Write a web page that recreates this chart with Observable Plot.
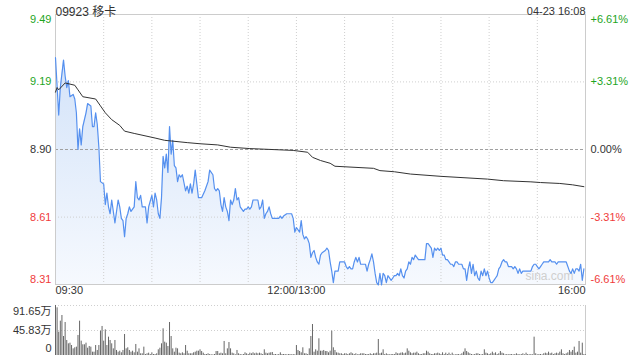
<!DOCTYPE html>
<html><head><meta charset="utf-8">
<script src="https://cdn.jsdelivr.net/npm/d3@7"></script>
<script src="https://cdn.jsdelivr.net/npm/@observablehq/plot@0.6"></script>
<style>
body{margin:0;background:#fff;}
#wrap{position:relative;width:640px;height:360px;font-family:"Liberation Sans",Arial,"Noto Sans CJK SC",sans-serif;}
#wrap svg{position:absolute;left:0;overflow:visible;}
</style></head><body><div id="wrap"></div>
<script>
const title = "09923 移卡";
const stamp = "04-23 16:08";
const watermark = "sina.com";
const prevClose = 8.90;
const pctLevels = [6.61, 3.31, 0, -3.31, -6.61];
const leftLabels = ["9.49", "9.19", "8.90", "8.61", "8.31"];
const rightLabels = ["+6.61%", "+3.31%", "0.00%", "-3.31%", "-6.61%"];
const xTickMin = [0, 150, 330];            // session minutes (13:00 = 150)
const xTickText = ["09:30", "12:00/13:00", "16:00"];
const volTicks = [91.65, 45.83, 0];
const volTickText = ["91.65万", "45.83万", "0"];

// [session minute, price]
const amPrice = [[0,9.30],[2,9.05],[3,9.17],[5,9.29],[6,9.22],[7,9.17],[8,9.20],[9,9.13],[11,9.14],[12,9.12],[13,9.06],[14,8.90],[15,8.99],[16,8.92],[17,9.00],[19,9.06],[20,9.10],[22,9.09],[23,9.00],[24,9.00],[25,9.06],[26,9.01],[27,8.91],[28,8.76],[30,8.75],[31,8.66],[32,8.71],[33,8.65],[34,8.62],[35,8.68],[37,8.58],[38,8.63],[39,8.68],[40,8.65],[41,8.60],[42,8.59],[43,8.52],[44,8.60],[45,8.62],[46,8.65],[47,8.63],[49,8.65],[50,8.76],[51,8.69],[52,8.68],[53,8.70],[54,8.65],[55,8.65],[56,8.65],[57,8.58],[58,8.65],[60,8.70],[61,8.65],[62,8.71],[63,8.68],[64,8.62],[65,8.60],[66,8.69],[67,8.87],[68,8.82],[69,8.88],[70,8.80],[71,9.00],[72,8.88],[73,8.94],[74,8.83],[75,8.82],[76,8.76],[77,8.79],[78,8.78],[79,8.79],[81,8.72],[82,8.74],[83,8.71],[84,8.75],[85,8.71],[86,8.75],[87,8.81],[88,8.75],[89,8.69],[91,8.69],[93,8.72],[95,8.76],[96,8.81],[98,8.79],[99,8.73],[100,8.72],[101,8.73],[102,8.72],[103,8.66],[104,8.63],[105,8.69],[106,8.65],[107,8.63],[108,8.59],[109,8.68],[110,8.66],[111,8.68],[112,8.73],[113,8.68],[114,8.69],[115,8.65],[116,8.64],[117,8.63],[118,8.64],[119,8.64],[120,8.65],[121,8.64],[122,8.65],[123,8.68],[124,8.68],[126,8.68],[127,8.64],[128,8.65],[129,8.68],[130,8.60],[131,8.62],[132,8.63],[133,8.65],[134,8.62],[135,8.60],[137,8.60],[139,8.60],[140,8.61],[141,8.60],[142,8.61],[144,8.62],[145,8.62],[147,8.62],[148,8.60],[149,8.54]];
const pmPrice = [[150,8.56],[152,8.54],[153,8.59],[154,8.53],[155,8.51],[156,8.52],[157,8.51],[158,8.49],[159,8.43],[160,8.45],[161,8.46],[162,8.43],[163,8.41],[164,8.40],[165,8.44],[166,8.45],[168,8.46],[169,8.47],[170,8.46],[171,8.41],[172,8.37],[173,8.32],[174,8.37],[176,8.37],[177,8.41],[178,8.41],[180,8.41],[181,8.39],[182,8.38],[183,8.39],[184,8.38],[185,8.38],[186,8.41],[187,8.43],[188,8.41],[189,8.43],[190,8.40],[192,8.40],[193,8.40],[194,8.37],[195,8.40],[196,8.42],[197,8.445],[198,8.41],[199,8.36],[200,8.32],[201,8.31],[202,8.36],[203,8.31],[204,8.36],[205,8.35],[206,8.32],[207,8.35],[209,8.33],[210,8.34],[211,8.35],[212,8.35],[213,8.36],[214,8.35],[215,8.38],[216,8.35],[217,8.34],[218,8.37],[219,8.38],[220,8.41],[221,8.40],[222,8.43],[223,8.42],[224,8.44],[225,8.43],[226,8.42],[227,8.42],[228,8.42],[230,8.42],[231,8.49],[232,8.49],[234,8.47],[235,8.43],[236,8.47],[237,8.46],[238,8.47],[239,8.46],[240,8.47],[241,8.44],[242,8.44],[243,8.42],[244,8.42],[245,8.41],[246,8.40],[247,8.40],[248,8.39],[249,8.41],[250,8.41],[251,8.40],[252,8.40],[253,8.40],[254,8.38],[255,8.38],[256,8.33],[257,8.38],[258,8.41],[259,8.36],[260,8.40],[261,8.35],[262,8.37],[263,8.34],[264,8.33],[265,8.37],[266,8.35],[267,8.38],[268,8.35],[269,8.37],[270,8.34],[271,8.32],[272,8.32],[273,8.33],[274,8.34],[275,8.35],[276,8.38],[277,8.39],[278,8.41],[279,8.42],[280,8.41],[281,8.41],[282,8.39],[283,8.39],[284,8.39],[285,8.38],[286,8.39],[287,8.38],[288,8.36],[289,8.38],[290,8.36],[291,8.37],[293,8.37],[295,8.37],[296,8.37],[297,8.39],[298,8.40],[299,8.40],[300,8.39],[301,8.38],[302,8.39],[303,8.40],[304,8.41],[305,8.41],[306,8.41],[307,8.41],[308,8.42],[309,8.41],[310,8.41],[311,8.41],[312,8.40],[313,8.41],[314,8.41],[315,8.41],[316,8.41],[317,8.41],[318,8.41],[319,8.39],[320,8.37],[321,8.36],[322,8.38],[323,8.36],[324,8.38],[325,8.38],[326,8.37],[327,8.40],[328,8.33],[329,8.38]];
const avgPrice = [[0,9.15],[1,9.17],[2,9.16],[6,9.19],[12,9.18],[14,9.16],[17,9.13],[25,9.12],[28,9.09],[31,9.06],[35,9.03],[40,9.005],[43,8.98],[49,8.97],[62,8.95],[68,8.94],[82,8.93],[90,8.925],[101,8.92],[109,8.91],[121,8.904],[148,8.896],[157,8.888],[160,8.866],[165,8.852],[171,8.84],[174,8.827],[198,8.818],[202,8.808],[211,8.803],[221,8.793],[240,8.783],[269,8.771],[279,8.764],[296,8.759],[302,8.756],[314,8.752],[322,8.746],[329,8.738]];
// volume per session minute, 万股
const volAM1 = [91.7,87.4,42.8,62.9,73.3,34.8,60.5,27.5,21.4,22.6,18.3,12.2,14.1,15.3,36.7,62.9,26.3,19.6,19.6,22.6,13.4,16.5,15.3,6.1,6.1,18.3,9.2,18.3,44.6,53.2,26.3,47.0,18.3,33.6,27.5,21.4,12.2,27.5,9.2,6.1,7.9,5.0,9.2,38.5,12.2,14.1,9.2,6.1,7.9,4.9,20.2,6.1,12.2,3.1,3.1,15.3,1.8,3.1,4.3,1.8,4.9,1.8,1.8,3.1,10.4,13.4,21.4,48.9,24.4,22.6,16.5,60.5,34.8,12.2,6.1,13.4,12.2,4.3,3.1,4.9,3.1,18.3,7.9,3.1];
const volAM2 = [3.1,3.1,4.9,6.1,7.9,7.9,10.4,7.3,4.3,1.8,1.8,3.1,1.8,1.2,1.2,1.8,7.3,7.3,3.1,4.3,3.1,25.7,3.1,12.2,23.8,12.2,4.3,3.1,1.2,9.2,3.1,1.8,1.2,1.8,4.9,3.1,1.8,4.3,3.1,4.9,3.1,4.3,3.1,4.3,3.1,1.8,10.4,4.3,3.1,4.3,4.9,5.5,1.8,1.8,1.2,1.8,4.9,1.8,1.8,1.8,1.2,1.8,1.8,1.2,1.8,1.2];
const volPM1 = [18.3,9.2,7.3,4.9,14.1,3.1,3.1,1.8,12.2,34.8,56.8,6.1,10.4,7.9,30.6,7.9];
const volPM2 = [7.9,9.2,7.3,7.3,4.9,7.9,44.6,14.1,9.2,4.9,4.3,3.1,3.1,1.8,3.1,3.1,1.8,3.1,4.9,3.1,1.8,3.1,1.2,1.8,3.1,3.1,3.1,1.8,1.8,1.8,3.1,1.8,3.1,3.1,4.3,29.3,3.1,4.3,10.4,1.8,3.1,1.8,1.2,1.8,1.8,1.8,4.9,3.1,3.1,4.3,4.9,3.1,4.3,12.2,7.9,4.9,3.1,4.3,4.3,6.1,3.1,1.8,1.8,3.1,3.1,7.9,6.1,3.1,1.8,1.8,3.1,3.1,4.3,3.1,1.8,4.9,1.8,4.3,1.8,4.3,1.2,4.3];
const volPM3 = [1.2,1.2,1.8,1.8,1.2,3.1,6.1,12.2,7.3,4.9,3.1,1.8,1.2,1.8,3.1,3.1,1.8,1.2,1.8,10.4,4.3,3.1,1.8,3.1,6.1,3.1,4.9,1.8,3.1,7.3,4.3,3.1,1.2,1.8,1.2,1.8,1.8,1.2,1.8,3.1,1.8,1.2,1.8,3.1,1.2,4.3,1.8,1.2,1.8,1.2,33.6,3.1,1.2,1.8,1.8,1.2,3.1,4.3,3.1,6.1,3.1,4.3,1.8,3.1,4.3,3.1,6.1,10.4,3.1,1.8,3.1,4.9,9.2,6.1,9.2,15.3,4.3,6.1,25.7,4.3,22.6,1.8,1.2];

const FONT = '"Liberation Sans", Arial, "Noto Sans CJK SC", sans-serif';
const lo = prevClose * (1 - 0.0661), hi = prevClose * (1 + 0.0661);
const levels = pctLevels.map(p => prevClose * (1 + p / 100));
const lvlColor = pctLevels.map(p => p > 0 ? "#1ea51e" : p < 0 ? "#f03b3b" : "#333");
const price = amPrice.concat(pmPrice).map(([m, p]) => ({m, p}));
const avg = avgPrice.map(([m, p]) => ({m, p}));
const volume = [...volAM1, ...volAM2, ...volPM1, ...volPM2, ...volPM3].map((v, i) => ({m: i, v}));

const gradDefs = () => {
  const ns = "http://www.w3.org/2000/svg";
  const defs = document.createElementNS(ns, "defs");
  defs.innerHTML = '<linearGradient id="pg" x1="0" y1="0" x2="0" y2="1">' +
    '<stop offset="0" stop-color="#d3e3f9"/><stop offset="1" stop-color="#f6f9fe"/></linearGradient>';
  return defs;
};
const vshift = i => i === 0 ? 5 : i === levels.length - 1 ? -5 : 0;

const main = Plot.plot({
  width: 640, height: 300,
  marginLeft: 55, marginRight: 55, marginTop: 14, marginBottom: 16,
  x: {domain: [0, 330], axis: null},
  y: {domain: [lo, hi], axis: null},
  style: {fontFamily: FONT, fontSize: "11px", background: "transparent", overflow: "visible"},
  marks: [
    gradDefs,
    Plot.areaY(price, {x: "m", y1: lo, y2: "p", fill: "url(#pg)"}),
    Plot.ruleX(d3.range(30, 330, 30), {stroke: "#cfcfcf", strokeDasharray: "1,2"}),
    Plot.ruleY([levels[1], levels[3]], {stroke: "#cfcfcf", strokeDasharray: "1,2"}),
    Plot.ruleY([prevClose], {stroke: "#a0a0a0", strokeDasharray: "3,2"}),
    Plot.frame({stroke: "#cccccc"}),
    Plot.text([watermark], {text: d => d, frameAnchor: "bottom-right", dx: -12, dy: -5, textAnchor: "end", fill: "#cfcfcf", fontSize: 12}),
    Plot.line(price, {x: "m", y: "p", stroke: "#5590ef", strokeWidth: 1.2}),
    Plot.line(avg, {x: "m", y: "p", stroke: "#333", strokeWidth: 1}),
    ...leftLabels.map((t, i) => Plot.text([t], {text: d => d, frameAnchor: "left", y: levels[i], dx: -4, dy: vshift(i), textAnchor: "end", fill: lvlColor[i]})),
    ...rightLabels.map((t, i) => Plot.text([t], {text: d => d, frameAnchor: "right", y: levels[i], dx: 5, dy: vshift(i), textAnchor: "start", fill: lvlColor[i]})),
    ...xTickText.map((t, i) => Plot.text([t], {text: d => d, frameAnchor: "bottom", x: xTickMin[i], dy: 9, textAnchor: i === 0 ? "start" : i === 2 ? "end" : "middle", fill: "#333"})),
    Plot.text([title], {text: d => d, frameAnchor: "top-left", dy: -7, textAnchor: "start", fontSize: 12, fill: "#333"}),
    Plot.text([stamp], {text: d => d, frameAnchor: "top-right", dy: -7, textAnchor: "end", fontSize: 11, fill: "#333"})
  ]
});

const volPlot = Plot.plot({
  width: 640, height: 56,
  marginLeft: 55, marginRight: 55, marginTop: 5, marginBottom: 1,
  x: {domain: [0, 330], axis: null},
  y: {domain: [0, 91.65], axis: null},
  style: {fontFamily: FONT, fontSize: "11px", background: "transparent", overflow: "visible"},
  marks: [
    Plot.ruleY([91.65, 45.83], {stroke: "#cfcfcf", strokeDasharray: "1,2"}),
    Plot.ruleX([0, 330], {stroke: "#cccccc"}),
    Plot.ruleX(volume, {x: "m", y1: 0, y2: "v", stroke: "#666", strokeWidth: 1}),
    ...volTickText.map((t, i) => Plot.text([t], {text: d => d, frameAnchor: "left", y: volTicks[i], dx: -4, dy: i === 0 ? 6 : i === 2 ? -7 : 0, textAnchor: "end", fill: "#333"}))
  ]
});

const wrap = document.getElementById("wrap");
main.style.top = "0px";
volPlot.style.top = "300px";
wrap.appendChild(main);
wrap.appendChild(volPlot);
</script></body></html>
